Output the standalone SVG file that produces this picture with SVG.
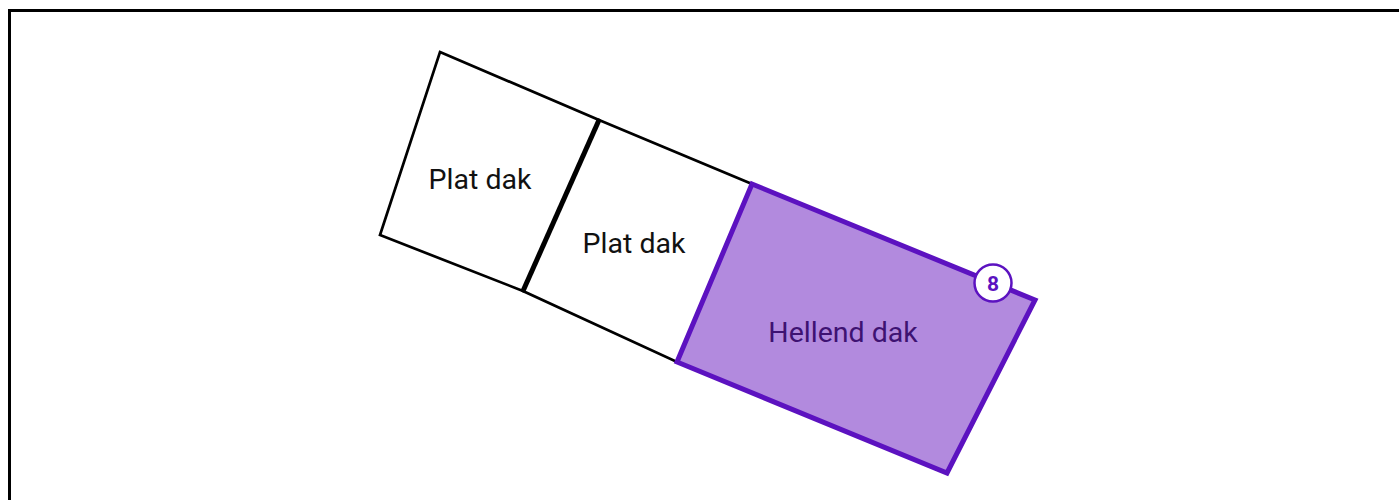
<svg xmlns="http://www.w3.org/2000/svg" width="1399" height="500" viewBox="0 0 1399 500">
<style>
.t{font-family:Roboto,"Liberation Sans",sans-serif;font-size:28.5px;text-anchor:middle;dominant-baseline:central}
.o{fill:#fff;stroke:#000;stroke-width:2.7;stroke-linejoin:miter}
</style>
<rect width="1399" height="500" fill="#fff"/>
<path d="M9.5 500 V10.5 H1399" fill="none" stroke="#000" stroke-width="3"/>
<g id="plat-dak-1">
<polygon class="o" points="440,52 599,120 523,291 380,235"/>
<text class="t" x="480" y="179" fill="#111">Plat dak</text>
</g>
<g id="plat-dak-2">
<polygon class="o" points="599,120 752,184 677,362 523,291"/>
<text class="t" x="634" y="243" fill="#111">Plat dak</text>
</g>
<g id="connectors">
<line x1="599" y1="120" x2="523" y2="291" stroke="#000" stroke-width="5"/>
</g>
<g id="hellend-dak">
<polygon points="752,184 1035,300 947,473 677,362" fill="#b28ade" stroke="#5c12c0" stroke-width="5" stroke-linejoin="miter"/>
<text class="t" x="843" y="332" fill="#3e1272">Hellend dak</text>
</g>
<g id="badge-8">
<circle cx="993" cy="283" r="18.5" fill="#fff" stroke="#5c12c0" stroke-width="2.5"/>
<text x="993" y="284" font-family="Roboto,'Liberation Sans',sans-serif" font-size="21" font-weight="bold" fill="#5c12c0" text-anchor="middle" dominant-baseline="central">8</text>
</g>
</svg>
